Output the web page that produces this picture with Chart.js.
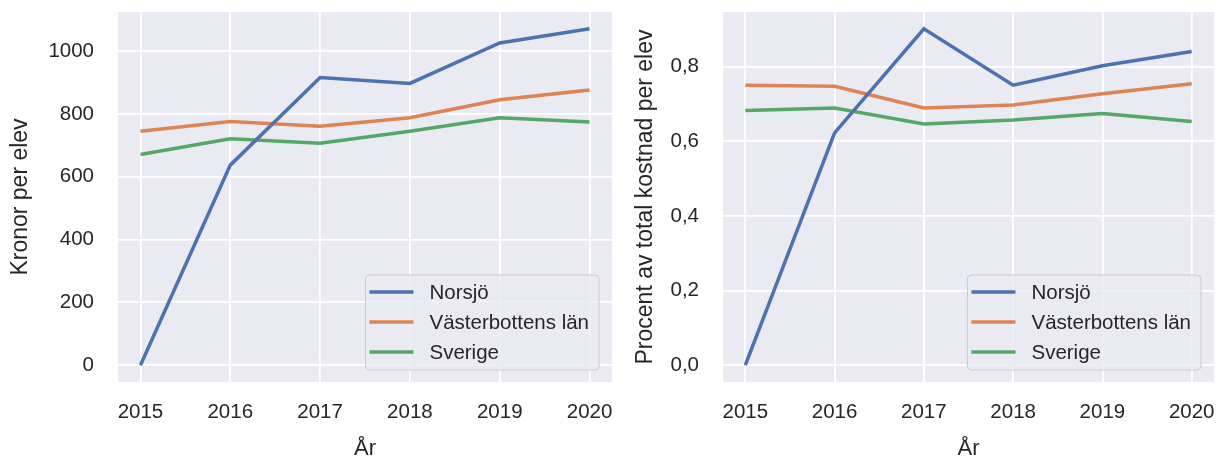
<!DOCTYPE html>
<html>
<head>
<meta charset="utf-8">
<script src="https://cdn.jsdelivr.net/npm/chart.js@4"></script>
<style>
    html, body { margin: 0; padding: 0; background: #ffffff; }
    #wrap { position: relative; width: 1217px; height: 459px; }
    #left { position: absolute; left: 0; top: 0; }
    #right { position: absolute; left: 615px; top: 0; }
</style>
</head>
<body>
<div id="wrap">
    <canvas id="left" width="615" height="459"></canvas>
    <canvas id="right" width="602" height="459"></canvas>
</div>
<script>
const years = [2015, 2016, 2017, 2018, 2019, 2020];
const seriesNames = ["Norsjö", "Västerbottens län", "Sverige"];

// kronor per elev
const kronorNorsjo = [0, 637, 916, 897, 1026, 1071];
const kronorVbt = [745, 776, 761, 788, 845, 876];
const kronorSverige = [671, 721, 707, 745, 788, 774];

// procent av total kostnad per elev
const procentNorsjo = [0.0, 0.622, 0.901, 0.75, 0.802, 0.84];
const procentVbt = [0.75, 0.747, 0.689, 0.697, 0.727, 0.754];
const procentSverige = [0.682, 0.689, 0.646, 0.657, 0.674, 0.653];

const kronorTicks = [0, 200, 400, 600, 800, 1000];
const procentTicks = [0, 0.2, 0.4, 0.6, 0.8];

const COLORS = ["#4C72B0", "#DD8452", "#55A868"];
const FONT = "'Liberation Sans', Arial, sans-serif";
const TEXT = "#262626";
const BG = "#EAEAF2";

// matplotlib style 5% margins
function padRange(values) {
    const lo = Math.min(...values);
    const hi = Math.max(...values);
    const m = (hi - lo) * 0.05;
    return { min: lo - m, max: hi + m };
}

const bgPlugin = {
    id: "plotBg",
    beforeDraw(chart) {
        const a = chart.chartArea;
        const c = chart.ctx;
        c.save();
        c.fillStyle = BG;
        c.fillRect(a.left, a.top, a.right - a.left, a.bottom - a.top);
        c.restore();
    },
};

const legendPlugin = {
    id: "boxLegend",
    afterDatasetsDraw(chart) {
        const a = chart.chartArea;
        const c = chart.ctx;
        const sets = chart.data.datasets;
        c.save();
        c.font = `20.5px ${FONT}`;
        const textW = Math.max(...sets.map((d) => c.measureText(d.label).width));
        const lineLen = 44;
        const w = 5 + lineLen + 16 + textW + 9;
        const rowH = 30;
        const h = rowH * sets.length + 5;
        const x = a.right - 13 - w;
        const y = a.bottom - 12 - h;
        c.beginPath();
        c.roundRect(x, y, w, h, 4);
        c.fillStyle = "rgba(234,234,242,0.8)";
        c.fill();
        c.strokeStyle = "#cccccc";
        c.lineWidth = 1;
        c.stroke();
        sets.forEach((d, i) => {
            const cy = y + 17 + i * rowH;
            c.beginPath();
            c.moveTo(x + 4, cy);
            c.lineTo(x + 4 + lineLen, cy);
            c.strokeStyle = d.borderColor;
            c.lineWidth = 3.5;
            c.stroke();
            c.fillStyle = TEXT;
            c.textBaseline = "middle";
            c.fillText(d.label, x + 4 + lineLen + 16, cy + 1);
        });
        c.restore();
    },
};

function makeChart(id, lists, yTicks, yTitle, yFmt, axisWidth, titlePad) {
    const all = lists.flat();
    const yr = padRange(all);
    const xr = padRange(years);
    return new Chart(document.getElementById(id), {
        type: "line",
        data: {
            datasets: lists.map((vals, i) => ({
                label: seriesNames[i],
                data: years.map((yv, j) => ({ x: yv, y: vals[j] })),
                borderColor: COLORS[i],
                backgroundColor: COLORS[i],
                borderWidth: 3.5,
                pointRadius: 0,
                tension: 0,
            })),
        },
        options: {
            responsive: false,
            animation: false,
            devicePixelRatio: 1,
            layout: { padding: { top: 12, right: 3, left: 0, bottom: 0 } },
            plugins: {
                legend: { display: false },
                tooltip: { enabled: false },
            },
            scales: {
                x: {
                    type: "linear",
                    min: xr.min,
                    max: xr.max,
                    afterBuildTicks: (s) => {
                        s.ticks = years.map((v) => ({ value: v }));
                    },
                    afterFit: (s) => {
                        s.height = 77;
                        s.paddingLeft = 0;
                        s.paddingRight = 0;
                    },
                    grid: { color: "#ffffff", lineWidth: 1.8, drawTicks: false },
                    border: { display: false },
                    ticks: {
                        padding: 18,
                        color: TEXT,
                        font: { family: FONT, size: 20.5 },
                        maxRotation: 0,
                        callback: (v) => String(v),
                    },
                    title: {
                        display: true,
                        text: "År",
                        color: TEXT,
                        font: { family: FONT, size: 22 },
                        padding: { top: 0, bottom: -3 },
                    },
                },
                y: {
                    min: yr.min,
                    max: yr.max,
                    afterBuildTicks: (s) => {
                        s.ticks = yTicks.map((v) => ({ value: v }));
                    },
                    afterFit: (s) => {
                        s.width = axisWidth;
                        s.paddingTop = 0;
                        s.paddingBottom = 0;
                    },
                    grid: { color: "#ffffff", lineWidth: 1.8, drawTicks: false },
                    border: { display: false },
                    ticks: {
                        padding: 24,
                        color: TEXT,
                        font: { family: FONT, size: 20.5 },
                        callback: yFmt,
                    },
                    title: {
                        display: true,
                        text: yTitle,
                        color: TEXT,
                        font: { family: FONT, size: 23 },
                        padding: { top: titlePad, bottom: 0 },
                    },
                },
            },
        },
        plugins: [bgPlugin, legendPlugin],
    });
}

makeChart(
    "left",
    [kronorNorsjo, kronorVbt, kronorSverige],
    kronorTicks,
    "Kronor per elev",
    (v) => String(v),
    118,
    7
);

makeChart(
    "right",
    [procentNorsjo, procentVbt, procentSverige],
    procentTicks,
    "Procent av total kostnad per elev",
    (v) => v.toFixed(1).replace(".", ","),
    108,
    17
);
</script>
</body>
</html>
